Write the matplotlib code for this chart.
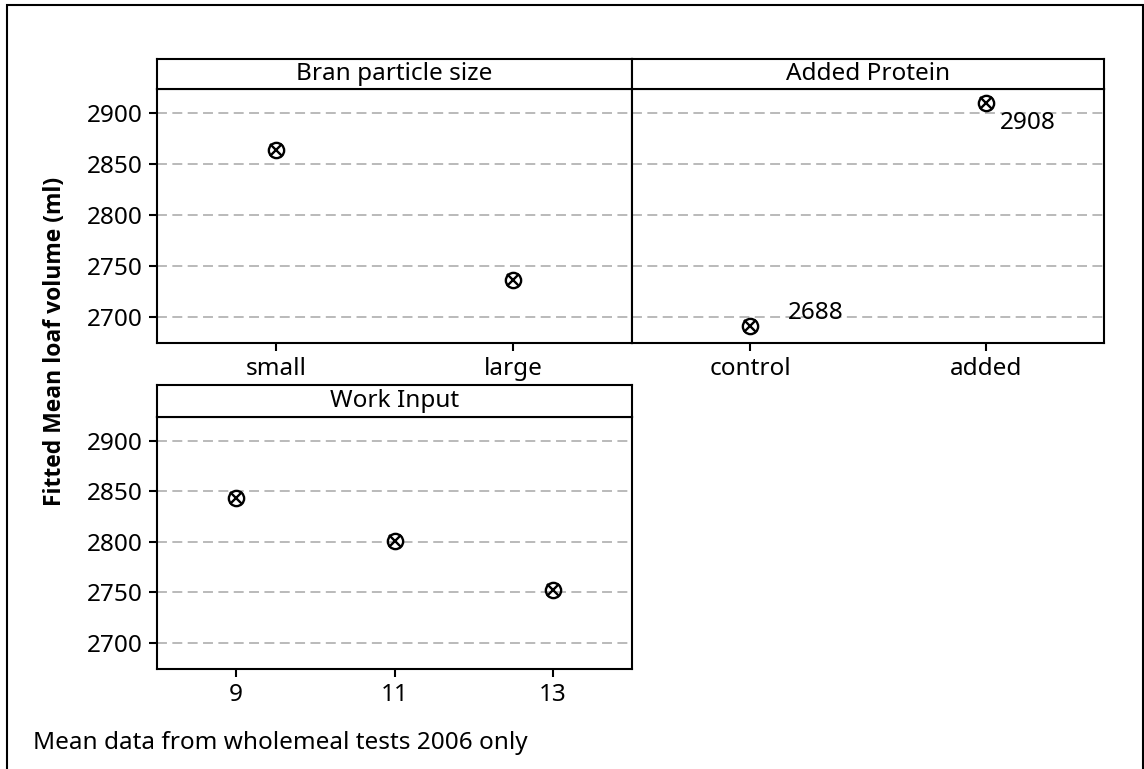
import numpy as np
import matplotlib.pyplot as plt
from matplotlib.patches import Rectangle

plt.rcParams['font.family'] = ['Noto Sans', 'DejaVu Sans']

# Данные: средние значения объёма хлеба по факторам
bran_levels = ['small', 'large']
bran_means = [2864, 2736]

protein_levels = ['control', 'added']
protein_means = [2691, 2910]
protein_labels = ['2688', '2908']

work_levels = [9, 11, 13]
work_means = [2843, 2801, 2752]

y_ticks = [2700, 2750, 2800, 2850, 2900]
y_lim = (2674.5, 2923.5)

W, H = 1144, 769
fig = plt.figure(figsize=(W / 100, H / 100), dpi=100)

FS = 17.5
GRID = '#b4b4b4'


def box(l, t, r, b):
    # перевод пикселей в координаты фигуры
    return [l / W, 1 - b / H, (r - l) / W, (b - t) / H]


def style_panel(ax, show_y=True):
    for s in ax.spines.values():
        s.set_linewidth(1.5)
    ax.set_ylim(*y_lim)
    ax.set_yticks(y_ticks)
    ax.yaxis.grid(True, color=GRID, linewidth=1.3, dashes=(5.5, 3))
    ax.set_axisbelow(True)
    ax.tick_params(axis='both', direction='out', length=6, width=1.5,
                   labelsize=FS, pad=4)
    if not show_y:
        ax.tick_params(axis='y', left=False, labelleft=False)


def strip(l, t, r, b, title):
    sax = fig.add_axes(box(l, t, r, b))
    sax.set_xticks([])
    sax.set_yticks([])
    for s in sax.spines.values():
        s.set_linewidth(1.5)
    sax.text(0.5, 0.5, title, ha='center', va='center', fontsize=FS,
             transform=sax.transAxes)


def points(ax, x, y):
    ax.plot(x, y, linestyle='none', marker='o', ms=11, mfc='none',
            mec='black', mew=1.7)
    ax.plot(x, y, linestyle='none', marker='x', ms=8.5, mec='black', mew=1.7)


# Рамка всего рисунка
fig.patches.append(Rectangle((6.5 / W, -0.05), 1136 / W, 1.05 - 4.5 / H,
                             transform=fig.transFigure, fill=False,
                             edgecolor='black', linewidth=1.5))

# Bran particle size
ax1 = fig.add_axes(box(157, 89, 632, 343))
points(ax1, [1, 2], bran_means)
ax1.set_xlim(0.5, 2.5)
ax1.set_xticks([1, 2])
ax1.set_xticklabels(bran_levels)
style_panel(ax1)
strip(157, 59, 632, 89, 'Bran particle size')

# Added Protein
ax2 = fig.add_axes(box(632, 89, 1104, 343))
points(ax2, [1, 2], protein_means)
ax2.set_xlim(0.5, 2.5)
ax2.set_xticks([1, 2])
ax2.set_xticklabels(protein_levels)
style_panel(ax2, show_y=False)
strip(632, 59, 1104, 89, 'Added Protein')
ax2.annotate(protein_labels[0], (1, protein_means[0]), xytext=(47, 9.5),
             textcoords='offset points', ha='center', va='center', fontsize=FS)
ax2.annotate(protein_labels[1], (2, protein_means[1]), xytext=(30, -14.5),
             textcoords='offset points', ha='center', va='center', fontsize=FS)

# Work Input
ax3 = fig.add_axes(box(157, 416.7, 632, 669))
points(ax3, work_levels, work_means)
ax3.set_xlim(8, 14)
ax3.set_xticks(work_levels)
style_panel(ax3)
strip(157, 384.7, 632, 416.7, 'Work Input')

fig.text(55 / W, 1 - 341 / H, 'Fitted Mean loaf volume (ml)', rotation=90,
         ha='center', va='center', fontsize=16.5, fontweight='bold',
         family=['Open Sans', 'DejaVu Sans'])
fig.text(33 / W, 1 - 743 / H, 'Mean data from wholemeal tests 2006 only',
         ha='left', va='center', fontsize=FS)

fig.savefig('out.png', dpi=100)
